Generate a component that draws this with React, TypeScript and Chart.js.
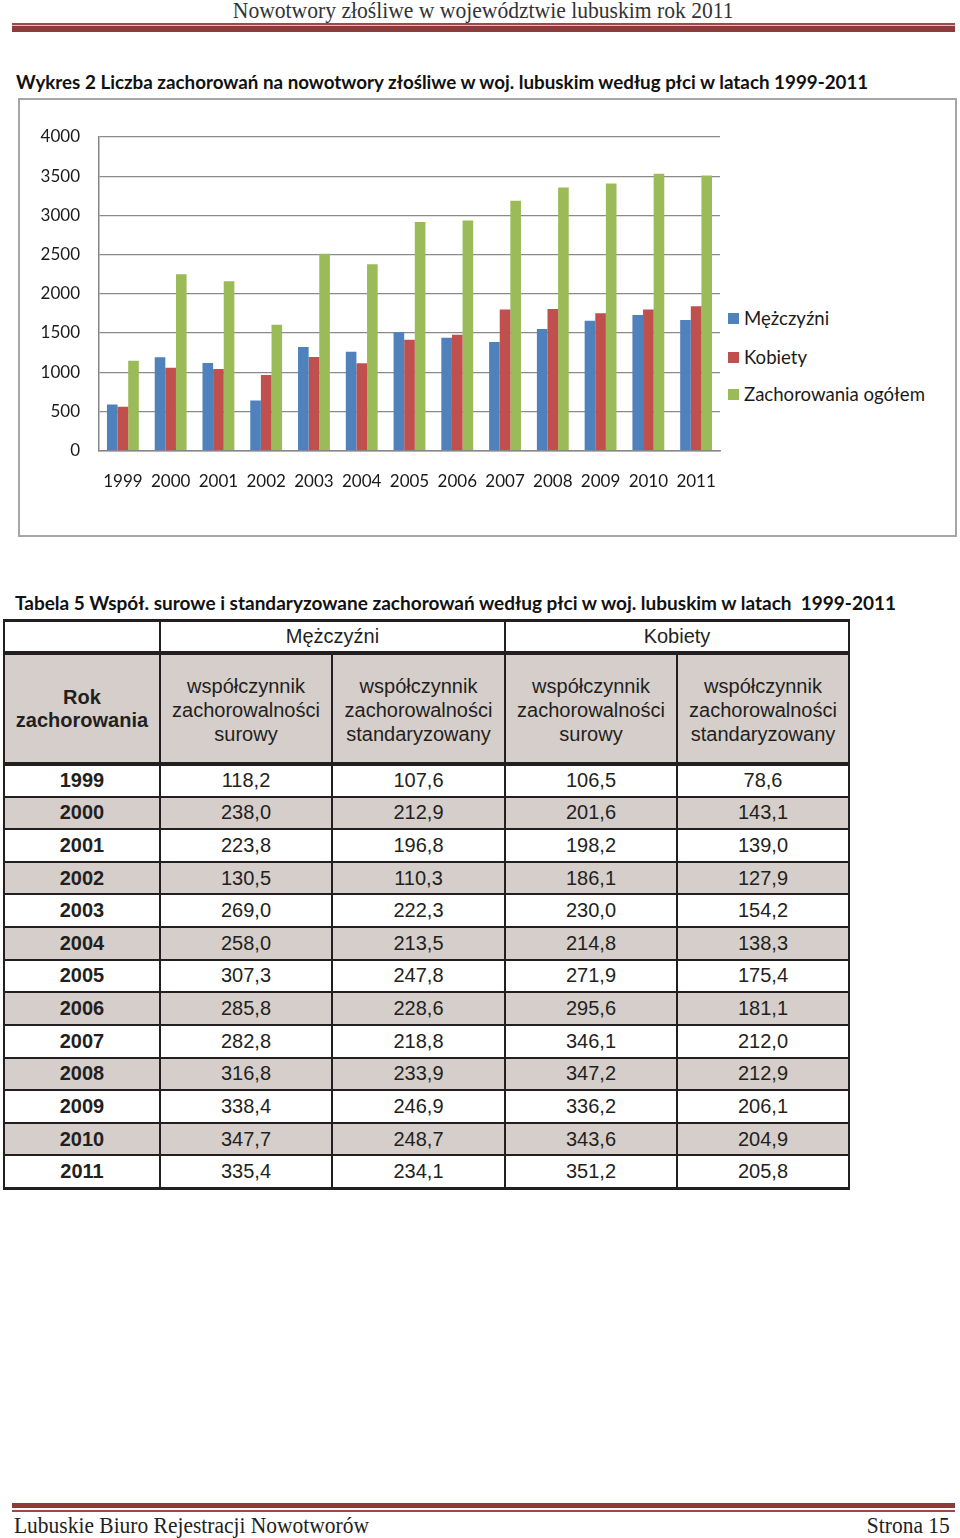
import React, { useEffect, useRef } from 'react';
import { Chart, registerables } from 'chart.js';

Chart.register(...registerables);

// ---- Chart data (Wykres 2) ----
const years = ['1999', '2000', '2001', '2002', '2003', '2004', '2005', '2006', '2007', '2008', '2009', '2010', '2011'];
const men = [588, 1189, 1116, 639, 1321, 1261, 1508, 1440, 1385, 1551, 1657, 1730, 1666];
const women = [558, 1056, 1039, 963, 1193, 1112, 1414, 1478, 1798, 1806, 1751, 1798, 1840];
const total = [1146, 2249, 2160, 1606, 2509, 2377, 2914, 2935, 3186, 3357, 3408, 3531, 3510];
const seriesNames = ['Mężczyźni', 'Kobiety', 'Zachorowania ogółem'];
const seriesColors = ['#4F81BD', '#C0504D', '#9BBB59'];

// ---- Table data (Tabela 5) ----
const menRaw = ['118,2', '238,0', '223,8', '130,5', '269,0', '258,0', '307,3', '285,8', '282,8', '316,8', '338,4', '347,7', '335,4'];
const menStd = ['107,6', '212,9', '196,8', '110,3', '222,3', '213,5', '247,8', '228,6', '218,8', '233,9', '246,9', '248,7', '234,1'];
const womenRaw = ['106,5', '201,6', '198,2', '186,1', '230,0', '214,8', '271,9', '295,6', '346,1', '347,2', '336,2', '343,6', '351,2'];
const womenStd = ['78,6', '143,1', '139,0', '127,9', '154,2', '138,3', '175,4', '181,1', '212,0', '212,9', '206,1', '204,9', '205,8'];

const CAL = 'Lato, "Open Sans", sans-serif';
const SERIF = '"Liberation Serif", "DejaVu Serif", serif';
const ARIAL = '"Liberation Sans", Arial, sans-serif';
const RED = '#8e3a3a';
const INK = '#231f20';

function ChartBlock() {
  const ref = useRef<HTMLCanvasElement>(null);
  useEffect(() => {
    const chart = new Chart(ref.current as HTMLCanvasElement, {
      type: 'bar',
      data: {
        labels: years,
        datasets: [
          { label: seriesNames[0], data: men, backgroundColor: seriesColors[0] },
          { label: seriesNames[1], data: women, backgroundColor: seriesColors[1] },
          { label: seriesNames[2], data: total, backgroundColor: seriesColors[2] },
        ],
      },
      options: {
        responsive: false,
        animation: false,
        layout: { padding: { top: 37, right: 7, left: 0, bottom: 0 } },
        plugins: { legend: { display: false }, tooltip: { enabled: false } },
        datasets: { bar: { categoryPercentage: 0.667, barPercentage: 1 } } as any,
        scales: {
          x: {
            grid: { display: false, drawTicks: true, tickLength: 21, tickColor: 'rgba(0,0,0,0)' },
            border: { display: true, color: '#868686', width: 1.5 },
            ticks: { padding: 0, color: '#1a1a1a', font: { family: CAL, size: 17 }, maxRotation: 0, autoSkip: false },
            afterFit: (s: any) => { s.height = 84.5; },
          },
          y: {
            min: 0,
            max: 4000,
            ticks: { stepSize: 500, padding: 0, color: '#1a1a1a', font: { family: CAL, size: 17 }, callback: (v: any) => String(v) },
            grid: { color: '#8a8a8a', lineWidth: 1.2, drawTicks: true, tickLength: 19, tickColor: 'rgba(0,0,0,0)' },
            border: { display: true, color: '#868686', width: 1.5 },
            afterFit: (s: any) => { s.width = 79; },
          },
        },
      },
    });
    return () => chart.destroy();
  }, []);

  return (
    <div style={{ position: 'absolute', left: 18, top: 98, width: 939, height: 439, border: '2px solid #a6a6a6', boxSizing: 'border-box', background: '#fff' }}>
      <canvas ref={ref} width={707} height={435} style={{ position: 'absolute', left: 0, top: 0 }} />
      {seriesNames.map((n, i) => (
        <div key={n} style={{ position: 'absolute', left: 708, top: [218, 257, 294][i] - 14, height: 28, display: 'flex', alignItems: 'center', whiteSpace: 'nowrap', font: `18.6px ${CAL}`, color: '#1a1a1a' }}>
          <span style={{ display: 'inline-block', width: 11, height: 11, background: seriesColors[i], marginRight: 5 }} />
          {n}
        </div>
      ))}
    </div>
  );
}

function Line({ x, y, w, h }: { x: number; y: number; w: number; h: number }) {
  return <div style={{ position: 'absolute', left: x, top: y, width: w, height: h, background: INK }} />;
}

function Cell({ x1, x2, y1, y2, bg, children, style }: any) {
  return (
    <div style={{ position: 'absolute', left: x1, top: y1, width: x2 - x1, height: y2 - y1, background: bg, display: 'flex', alignItems: 'center', justifyContent: 'center', textAlign: 'center', color: INK, ...style }}>
      {children}
    </div>
  );
}

function TableBlock() {
  const X = [4, 160, 332, 505, 677, 849];
  const yTop = 620, yHead = 653, ySub = 764, yEnd = 1188;
  const rowH = (yEnd - ySub) / years.length;
  const gray = '#d5cecb';
  const cols = [menRaw, menStd, womenRaw, womenStd];
  const subLabels = [
    ['współczynnik', 'zachorowalności', 'surowy'],
    ['współczynnik', 'zachorowalności', 'standaryzowany'],
    ['współczynnik', 'zachorowalności', 'surowy'],
    ['współczynnik', 'zachorowalności', 'standaryzowany'],
  ];
  const els: any[] = [];
  // header row
  els.push(<Cell key="h0" x1={X[0]} x2={X[1]} y1={yTop} y2={yHead} bg="#fff" />);
  els.push(<Cell key="h1" x1={X[1]} x2={X[3]} y1={yTop} y2={yHead} bg="#fff" style={{ font: `20px ${ARIAL}` }}>Mężczyźni</Cell>);
  els.push(<Cell key="h2" x1={X[3]} x2={X[5]} y1={yTop} y2={yHead} bg="#fff" style={{ font: `20px ${ARIAL}` }}>Kobiety</Cell>);
  // sub header
  els.push(
    <Cell key="s0" x1={X[0]} x2={X[1]} y1={yHead} y2={ySub} bg={gray} style={{ font: `bold 20px ${ARIAL}`, lineHeight: '23px', flexDirection: 'column' }}>
      <div>Rok</div><div>zachorowania</div>
    </Cell>
  );
  subLabels.forEach((lab, i) => {
    els.push(
      <Cell key={'s' + (i + 1)} x1={X[i + 1]} x2={X[i + 2]} y1={yHead} y2={ySub} bg={gray} style={{ font: `20px ${ARIAL}`, lineHeight: '24px', flexDirection: 'column', paddingTop: 2, boxSizing: 'border-box' }}>
        {lab.map((t, j) => <div key={j}>{t}</div>)}
      </Cell>
    );
  });
  // data rows
  years.forEach((yr, r) => {
    const y1 = ySub + r * rowH, y2 = y1 + rowH;
    const bg = r % 2 === 1 ? gray : '#fff';
    els.push(<Cell key={'r' + r} x1={X[0]} x2={X[1]} y1={y1} y2={y2} bg={bg} style={{ font: `bold 20px ${ARIAL}` }}>{yr}</Cell>);
    cols.forEach((c, i) => {
      els.push(<Cell key={'r' + r + 'c' + i} x1={X[i + 1]} x2={X[i + 2]} y1={y1} y2={y2} bg={bg} style={{ font: `20px ${ARIAL}` }}>{c[r]}</Cell>);
    });
  });
  // lines
  els.push(<Line key="l-top" x={X[0] - 1} y={yTop - 1} w={X[5] - X[0] + 2} h={2.5} />);
  els.push(<Line key="l-head" x={X[0] - 1} y={yHead - 2} w={X[5] - X[0] + 2} h={3.5} />);
  els.push(<Line key="l-sub" x={X[0] - 1} y={ySub - 2} w={X[5] - X[0] + 2} h={3.5} />);
  for (let k = 1; k < years.length; k++) {
    els.push(<Line key={'l-r' + k} x={X[0] - 1} y={ySub + k * rowH - 1} w={X[5] - X[0] + 2} h={2} />);
  }
  els.push(<Line key="l-end" x={X[0] - 1} y={yEnd - 1} w={X[5] - X[0] + 2} h={2.5} />);
  X.forEach((x, i) => {
    const top = i === 2 || i === 4 ? yHead : yTop;
    els.push(<Line key={'v' + i} x={x - 1} y={top - 1} w={2} h={yEnd - top + 2} />);
  });
  return <>{els}</>;
}

export default function App() {
  return (
    <div style={{ position: 'absolute', left: 0, top: 0, width: 960, height: 1538, background: '#fff', overflow: 'hidden' }}>
      {/* page header */}
      <div style={{ position: 'absolute', left: 0, width: 966, top: -3, height: 28, lineHeight: '28px', textAlign: 'center', whiteSpace: 'nowrap' }}>
        <span style={{ display: 'inline-block', font: `24px ${SERIF}`, color: '#333', transform: 'scaleX(0.9)' }}>
          Nowotwory złośliwe w województwie lubuskim rok 2011
        </span>
      </div>
      <div style={{ position: 'absolute', left: 12, top: 23, width: 943, height: 1.5, background: '#a04848' }} />
      <div style={{ position: 'absolute', left: 12, top: 24.5, width: 943, height: 1.5, background: '#e9b8b8' }} />
      <div style={{ position: 'absolute', left: 12, top: 26, width: 943, height: 6, background: RED }} />

      {/* chart title */}
      <div style={{ position: 'absolute', left: 16, top: 70, height: 24, lineHeight: '24px', whiteSpace: 'nowrap', font: `bold 18.8px ${CAL}`, color: '#111' }}>
        Wykres 2 Liczba zachorowań na nowotwory złośliwe w woj. lubuskim według płci w latach 1999-2011
      </div>
      <ChartBlock />

      {/* table title */}
      <div style={{ position: 'absolute', left: 15, top: 591, height: 24, lineHeight: '24px', whiteSpace: 'pre', font: `bold 19px ${CAL}`, color: '#111' }}>
        {'Tabela 5 Współ. surowe i standaryzowane zachorowań według płci w woj. lubuskim w latach  1999-2011'}
      </div>
      <TableBlock />

      {/* footer */}
      <div style={{ position: 'absolute', left: 12, top: 1503, width: 943, height: 5, background: RED }} />
      <div style={{ position: 'absolute', left: 12, top: 1510, width: 943, height: 1.5, background: '#a04848' }} />
      <div style={{ position: 'absolute', left: 14, top: 1513, height: 28, lineHeight: '28px', whiteSpace: 'nowrap', font: `23px ${SERIF}`, color: '#222', transform: 'scaleX(0.934)', transformOrigin: 'left center' }}>
        Lubuskie Biuro Rejestracji Nowotworów
      </div>
      <div style={{ position: 'absolute', right: 10, top: 1513, height: 28, lineHeight: '28px', whiteSpace: 'nowrap', font: `23px ${SERIF}`, color: '#222', transform: 'scaleX(0.934)', transformOrigin: 'right center' }}>
        Strona 15
      </div>
    </div>
  );
}
